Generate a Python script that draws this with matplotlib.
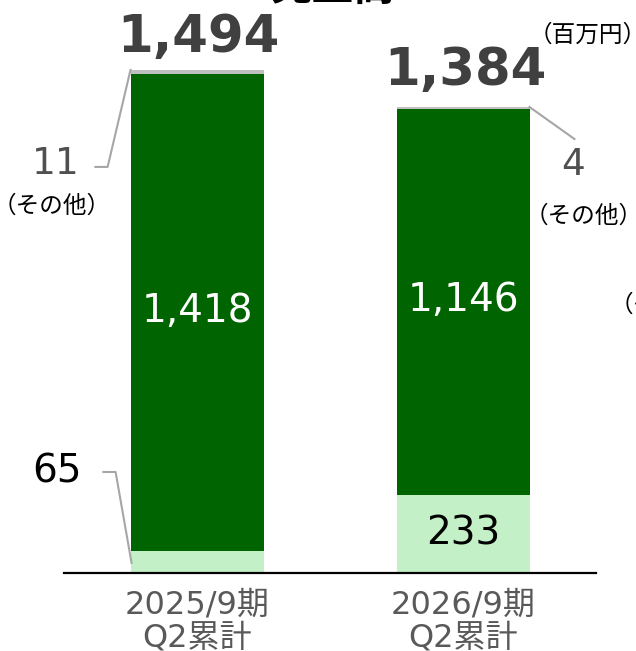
import matplotlib.pyplot as plt

plt.rcParams['font.family'] = ['DejaVu Sans', 'Noto Sans CJK JP']

# データ（百万円）
categories = ['2025/9期\nQ2累計', '2026/9期\nQ2累計']
light_vals = [65, 233]
dark_vals = [1418, 1146]
other_vals = [11, 4]
totals = [1494, 1384]

c_light = '#C4F0C8'
c_dark = '#006400'
c_other = '#BFBFBF'
c_lead = '#A6A6A6'
c_text = '#404040'

fig = plt.figure(figsize=(6.36, 6.51), dpi=100)
ax = fig.add_axes([64/636, 78/651, 532/636, 572.4/651])

x = [0, 1]
w = 0.5
ax.bar(x, light_vals, width=w, color=c_light)
ax.bar(x, dark_vals, width=w, bottom=light_vals, color=c_dark)
bot2 = [a + b for a, b in zip(light_vals, dark_vals)]
ax.bar(x, other_vals, width=w, bottom=bot2, color=c_other)

ax.set_xlim(-0.5, 1.5)
ax.set_ylim(0, 1700)
for s in ['top', 'left', 'right']:
    ax.spines[s].set_visible(False)
ax.spines['bottom'].set_linewidth(1.6)
ax.set_yticks([])
ax.set_xticks(x)
ax.set_xticklabels(categories, fontsize=23, color='#595959', linespacing=1.08)
ax.tick_params(axis='x', length=0, pad=12)

# 合計
ax.text(x[0] + 0.005, totals[0] + 96, f'{totals[0]:,}', ha='center', va='center',
        fontsize=37, fontweight='bold', color=c_text)
ax.text(x[1] + 0.01, totals[1] + 106, f'{totals[1]:,}', ha='center', va='center',
        fontsize=37, fontweight='bold', color=c_text)
ax.text(1.468, 1600, '（百万円）', ha='center', va='center', fontsize=17, color='black',
        clip_on=False)

# 内側ラベル
for i in range(2):
    ax.text(x[i], light_vals[i] + dark_vals[i] / 2 + 5, f'{dark_vals[i]:,}', ha='center',
            va='center', fontsize=28, color='white')
ax.text(x[1], light_vals[1] / 2, f'{light_vals[1]:,}', ha='center', va='center',
        fontsize=28, color='black')

# 引き出し線（その他・65）
ax.plot([x[0] - w/2, -0.336, -0.382], [totals[0], 1206, 1206], color=c_lead, lw=1.5,
        clip_on=False)
ax.text(-0.532, 1215, f'{other_vals[0]}', ha='center', va='center', fontsize=27,
        color='#505050')
ax.text(-0.547, 1090, '（その他）', ha='center', va='center', fontsize=17, color='black')

ax.plot([-0.352, -0.306, x[0] - w/2 + 0.004], [300, 300, 30], color=c_lead, lw=1.5,
        clip_on=False)
ax.text(-0.528, 300, f'{light_vals[0]}', ha='center', va='center', fontsize=28, color='black')

ax.plot([x[1] + w/2, 1.419], [totals[1], 1289], color=c_lead, lw=1.5, clip_on=False)
ax.text(1.415, 1212, f'{other_vals[1]}', ha='center', va='center', fontsize=27,
        color='#505050')
ax.text(1.453, 1060, '（その他）', ha='center', va='center', fontsize=17, color='black')
ax.text(1.55, 796, '（その他）', ha='left', va='center', fontsize=17, color='black',
        clip_on=False)

# タイトル（上端で切れている）
fig.text(333/636, 1 - 9/651, '売上高', ha='center', va='bottom', fontsize=30,
         fontweight='bold', color='black')

fig.savefig('out.png', dpi=100)
